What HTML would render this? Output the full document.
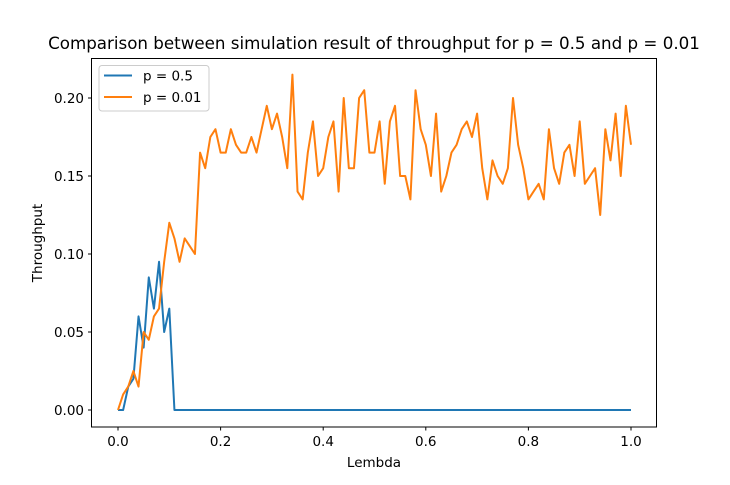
<!DOCTYPE html>
<html><head><meta charset="utf-8"><style>
html,body{margin:0;padding:0;background:#fff;}
svg text{font-family:"DejaVu Sans","Liberation Sans",sans-serif;fill:#000;}
</style></head><body>
<svg id="chart" width="730" height="480" viewBox="0 0 730 480" xmlns="http://www.w3.org/2000/svg">
<rect x="0" y="0" width="730" height="480" fill="#fff"/>
<text x="374" y="49" font-size="16.7" text-anchor="middle">Comparison between simulation result of throughput for p = 0.5 and p = 0.01</text>
<g id="xticks"></g>
<g id="yticks"></g>
<g id="series"></g>
<rect x="91.5" y="58.5" width="565" height="368.5" fill="none" stroke="#000" stroke-width="1"/>
<text x="374" y="467" font-size="13.5" text-anchor="middle">Lembda</text>
<text transform="translate(42,243) rotate(-90)" font-size="13.5" text-anchor="middle">Throughput</text>
<g>
<rect x="99" y="65.5" width="110" height="45.5" rx="3" fill="#fff" fill-opacity="0.8" stroke="#ccc"/>
<line x1="104" y1="75.5" x2="132" y2="75.5" stroke="#1f77b4" stroke-width="2"/>
<text x="143" y="80.5" font-size="13.5">p = 0.5</text>
<line x1="104" y1="97" x2="132" y2="97" stroke="#ff7f0e" stroke-width="2"/>
<text x="143" y="102" font-size="13.5">p = 0.01</text>
</g>
</svg>
<script>
const xTickValues=[0,0.2,0.4,0.6,0.8,1.0];
const xTickLabels=["0.0","0.2","0.4","0.6","0.8","1.0"];
const yTickValues=[0,0.05,0.10,0.15,0.20];
const yTickLabels=["0.00","0.05","0.10","0.15","0.20"];
const seriesP05=[0,0,0.015,0.02,0.06,0.04,0.085,0.065,0.095,0.05,0.065,0,0,0,0,0,0,0,0,0,0,0,0,0,0,0,0,0,0,0,0,0,0,0,0,0,0,0,0,0,0,0,0,0,0,0,0,0,0,0,0,0,0,0,0,0,0,0,0,0,0,0,0,0,0,0,0,0,0,0,0,0,0,0,0,0,0,0,0,0,0,0,0,0,0,0,0,0,0,0,0,0,0,0,0,0,0,0,0,0,0];
const seriesP001=[0,0.01,0.015,0.025,0.015,0.05,0.045,0.06,0.065,0.095,0.12,0.11,0.095,0.11,0.105,0.10,0.165,0.155,0.175,0.18,0.165,0.165,0.18,0.17,0.165,0.165,0.175,0.165,0.18,0.195,0.18,0.19,0.175,0.155,0.215,0.14,0.135,0.165,0.185,0.15,0.155,0.175,0.185,0.14,0.2,0.155,0.155,0.2,0.205,0.165,0.165,0.185,0.145,0.185,0.195,0.15,0.15,0.135,0.205,0.18,0.17,0.15,0.19,0.14,0.15,0.165,0.17,0.18,0.185,0.175,0.19,0.155,0.135,0.16,0.15,0.145,0.155,0.2,0.17,0.155,0.135,0.14,0.145,0.135,0.18,0.155,0.145,0.165,0.17,0.15,0.185,0.145,0.15,0.155,0.125,0.18,0.16,0.19,0.15,0.195,0.17];
const NS="http://www.w3.org/2000/svg";
function xs(v){return 118+v*513;}
function ys(v){return 410-v*1560;}
function mk(tag,attrs,parent){const e=document.createElementNS(NS,tag);for(const k in attrs)e.setAttribute(k,attrs[k]);parent.appendChild(e);return e;}
const gx=document.getElementById('xticks'),gy=document.getElementById('yticks'),gs=document.getElementById('series');
xTickValues.forEach((v,i)=>{
  const l=mk('line',{x1:xs(v),x2:xs(v),y1:427,y2:430.5,stroke:'#000'},gx);
  
  
  const t=mk('text',{x:xs(v),y:446,'font-size':13.5,'text-anchor':'middle'},gx);
  t.textContent=xTickLabels[i];
  
  
});
yTickValues.forEach((v,i)=>{
  const l=mk('line',{x1:88,x2:91.5,y1:ys(v),y2:ys(v),stroke:'#000'},gy);
  
  
  const t=mk('text',{x:84,y:ys(v)+5,'font-size':13.5,'text-anchor':'end'},gy);
  t.textContent=yTickLabels[i];
  
  
});
function line(vals,color,name){
  const n=vals.length-1;
  const pts=vals.map((v,i)=>xs(i/n).toFixed(2)+','+ys(v).toFixed(2)).join(' ');
  const p=mk('polyline',{points:pts,fill:'none',stroke:color,'stroke-width':2,'stroke-linejoin':'round'},gs);
  
  
}
line(seriesP05,'#1f77b4','series-p05-line');
line(seriesP001,'#ff7f0e','series-p001-line');
</script>
</body></html>
